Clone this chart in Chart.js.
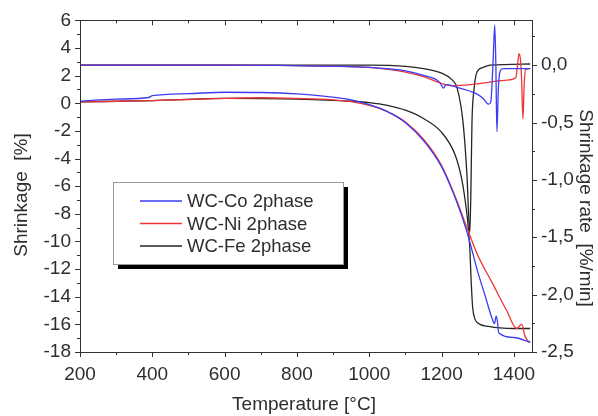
<!DOCTYPE html>
<html>
<head>
<meta charset="utf-8">
<script src="https://cdn.jsdelivr.net/npm/chart.js@4.4.1/dist/chart.umd.min.js"></script>
<style>
  html, body { margin: 0; padding: 0; background: #fff; }
  #wrap { width: 598px; height: 416px; position: relative; }
</style>
</head>
<body>
<div id="wrap"><canvas id="chart"></canvas></div>
<script>
// ---- axis ticks ----
const tempTicks = [200, 400, 600, 800, 1000, 1200, 1400];
const shrinkTicks = [-18, -16, -14, -12, -10, -8, -6, -4, -2, 0, 2, 4, 6];
const rateTicks = [-2.5, -2.0, -1.5, -1.0, -0.5, 0.0];

const seriesNames = ['WC-Co 2phase', 'WC-Ni 2phase', 'WC-Fe 2phase'];
const seriesColors = ['#3c3cf0', '#ee3535', '#262626'];

// ---- shrinkage [%] ----
const coShrinkT = [200, 300, 390, 400, 500, 600, 700, 800, 880, 940, 1000, 1050, 1100, 1150, 1200, 1240, 1270, 1300, 1320, 1340, 1346, 1351, 1354, 1358, 1400, 1445];
const coShrink  = [0.15, 0.3, 0.42, 0.55, 0.7, 0.8, 0.78, 0.68, 0.5, 0.3, -0.1, -0.6, -1.4, -2.7, -4.6, -7.0, -9.3, -12.2, -13.9, -15.6, -15.95, -15.4, -15.7, -16.6, -16.95, -17.3];

const niShrinkT = [200, 400, 600, 700, 800, 900, 950, 1000, 1050, 1100, 1150, 1200, 1240, 1270, 1300, 1340, 1380, 1408, 1416, 1422, 1430, 1436, 1445];
const niShrink  = [0.1, 0.2, 0.35, 0.4, 0.35, 0.25, 0.12, -0.15, -0.6, -1.35, -2.6, -4.5, -6.9, -9.0, -11.0, -13.0, -15.0, -16.3, -16.1, -16.0, -16.8, -17.1, -17.3];

const feShrinkT = [200, 400, 600, 800, 950, 1000, 1050, 1100, 1150, 1200, 1237, 1255, 1265, 1272, 1278, 1282, 1286, 1292, 1300, 1330, 1400, 1445];
const feShrink  = [0.1, 0.2, 0.35, 0.3, 0.15, 0.05, -0.15, -0.5, -1.1, -2.1, -3.7, -5.4, -7.0, -8.5, -10.5, -13.0, -14.8, -15.6, -15.9, -16.15, -16.3, -16.3];

// ---- shrinkage rate [%/min] ----
const coRateT = [200, 600, 900, 1000, 1100, 1150, 1195, 1205, 1212, 1250, 1290, 1315, 1330, 1336, 1342, 1347, 1350, 1353, 1357, 1362, 1370, 1445];
const coRate  = [0.0, 0.0, -0.01, -0.02, -0.05, -0.09, -0.15, -0.2, -0.17, -0.2, -0.24, -0.29, -0.34, -0.32, 0.0, 0.35, 0.0, -0.58, -0.2, -0.05, -0.03, -0.03];

const niRateT = [200, 600, 900, 1000, 1100, 1150, 1200, 1230, 1280, 1330, 1380, 1405, 1410, 1414, 1418, 1421, 1425, 1428, 1432, 1445];
const niRate  = [0.0, 0.0, -0.01, -0.02, -0.06, -0.1, -0.16, -0.18, -0.17, -0.15, -0.13, -0.11, 0.0, 0.1, 0.05, -0.1, -0.47, -0.2, -0.04, -0.03];

const feRateT = [200, 600, 1000, 1100, 1150, 1200, 1230, 1243, 1259, 1270, 1278, 1281, 1284, 1290, 1298, 1315, 1334, 1445];
const feRate  = [0.0, 0.0, 0.0, -0.01, -0.03, -0.07, -0.13, -0.2, -0.49, -0.95, -1.46, -1.1, -0.5, -0.2, -0.06, -0.02, 0.0, 0.01];

const FONT = "'Liberation Sans', Arial, sans-serif";
const TEXT = '#2e2e2e';
Chart.defaults.font.family = FONT;

const pts = (xs, ys) => xs.map((x, i) => ({ x, y: ys[i] }));

function line(label, color, data, axis) {
  return {
    label, data, yAxisID: axis,
    borderColor: color, backgroundColor: color,
    borderWidth: 1.3, pointRadius: 0,
    cubicInterpolationMode: 'monotone', fill: false
  };
}

// frame box + tick marks (major and minor)
const frameTicks = {
  id: 'frameTicks',
  afterDatasetsDraw(chart) {
    const { ctx, chartArea: a, scales } = chart;
    ctx.save();
    ctx.strokeStyle = '#333';
    ctx.lineWidth = 1;
    ctx.strokeRect(Math.round(a.left) + 0.5, Math.round(a.top) + 0.5,
                   Math.round(a.right - a.left), Math.round(a.bottom - a.top));
    ctx.beginPath();
    for (let t = 200; t <= 1400; t += 100) {
      const x = Math.round(scales.x.getPixelForValue(t)) + 0.5;
      const len = t % 200 === 0 ? 5 : 3;
      ctx.moveTo(x, a.bottom); ctx.lineTo(x, a.bottom + len);
      ctx.moveTo(x, a.top); ctx.lineTo(x, a.top + len);
    }
    for (let v = -18; v <= 6; v += 1) {
      const y = Math.round(scales.y.getPixelForValue(v)) + 0.5;
      const len = v % 2 === 0 ? 5 : 3;
      ctx.moveTo(a.left, y); ctx.lineTo(a.left - len, y);
    }
    for (let v = -2.5; v <= 0.26; v += 0.25) {
      const y = Math.round(scales.y2.getPixelForValue(v)) + 0.5;
      const len = Math.abs(v * 2 - Math.round(v * 2)) < 0.01 ? 5 : 3;
      ctx.moveTo(a.right, y); ctx.lineTo(a.right + len, y);
    }
    ctx.stroke();
    ctx.restore();
  }
};

// axis titles
const axisTitles = {
  id: 'axisTitles',
  afterDraw(chart) {
    const { ctx } = chart;
    const title = (text, x, y, rot) => {
      ctx.save();
      ctx.fillStyle = TEXT;
      ctx.font = '19px ' + FONT;
      ctx.textAlign = 'center';
      ctx.textBaseline = 'middle';
      ctx.translate(x, y);
      ctx.rotate(rot);
      ctx.fillText(text, 0, 0);
      ctx.restore();
    };
    title('Temperature [°C]', 304, 405, 0);
    title('Shrinkage  [%]', 22, 195, -Math.PI / 2);
    title('Shrinkage rate  [%/min]', 585, 208, Math.PI / 2);
  }
};

// boxed legend with drop shadow
const boxLegend = {
  id: 'boxLegend',
  afterDraw(chart) {
    const { ctx } = chart;
    const bx = 113, by = 182, bw = 230, bh = 82;
    ctx.save();
    ctx.fillStyle = '#000';
    ctx.fillRect(bx + 5, by + 5, bw, bh);
    ctx.fillStyle = '#fff';
    ctx.fillRect(bx, by, bw, bh);
    ctx.strokeStyle = '#999';
    ctx.lineWidth = 1;
    ctx.strokeRect(bx + 0.5, by + 0.5, bw, bh);
    ctx.font = '18.5px ' + FONT;
    ctx.textBaseline = 'middle';
    seriesNames.forEach((name, i) => {
      const y = by + 19 + i * 22.5;
      ctx.strokeStyle = seriesColors[i];
      ctx.lineWidth = 1.3;
      ctx.beginPath();
      ctx.moveTo(140, y); ctx.lineTo(182, y);
      ctx.stroke();
      ctx.fillStyle = TEXT;
      ctx.fillText(name, 187, y + 1);
    });
    ctx.restore();
  }
};

const tickFont = { size: 19, family: FONT };

new Chart(document.getElementById('chart'), {
  type: 'line',
  data: {
    datasets: [
      line(seriesNames[0], seriesColors[0], pts(coShrinkT, coShrink), 'y'),
      line(seriesNames[1], seriesColors[1], pts(niShrinkT, niShrink), 'y'),
      line(seriesNames[2], seriesColors[2], pts(feShrinkT, feShrink), 'y'),
      line(seriesNames[0], seriesColors[0], pts(coRateT, coRate), 'y2'),
      line(seriesNames[1], seriesColors[1], pts(niRateT, niRate), 'y2'),
      line(seriesNames[2], seriesColors[2], pts(feRateT, feRate), 'y2')
    ]
  },
  options: {
    responsive: true, maintainAspectRatio: false, animation: false,
    layout: { padding: { top: 18, left: 0, right: 0, bottom: 0 } },
    plugins: { legend: { display: false }, tooltip: { enabled: false } },
    scales: {
      x: {
        type: 'linear', min: 200, max: 1450,
        afterBuildTicks: s => { s.ticks = tempTicks.map(value => ({ value })); },
        afterFit: s => { s.height = 64; },
        ticks: { font: tickFont, color: TEXT, padding: 11, maxRotation: 0,
                 callback: v => String(v) },
        grid: { display: false, drawTicks: false }, border: { display: false }
      },
      y: {
        position: 'left', min: -18, max: 6,
        afterBuildTicks: s => { s.ticks = shrinkTicks.map(value => ({ value })); },
        afterFit: s => { s.width = 80; },
        ticks: { font: tickFont, color: TEXT, padding: 9, callback: v => String(v) },
        grid: { display: false, drawTicks: false }, border: { display: false }
      },
      y2: {
        position: 'right', min: -2.5, max: 0.39,
        afterBuildTicks: s => { s.ticks = rateTicks.map(value => ({ value })); },
        afterFit: s => { s.width = 66; },
        ticks: { font: tickFont, color: TEXT, padding: 9,
                 callback: v => v.toFixed(1).replace('.', ',') },
        grid: { display: false, drawTicks: false }, border: { display: false }
      }
    }
  },
  plugins: [frameTicks, axisTitles, boxLegend]
});
</script>
</body>
</html>
